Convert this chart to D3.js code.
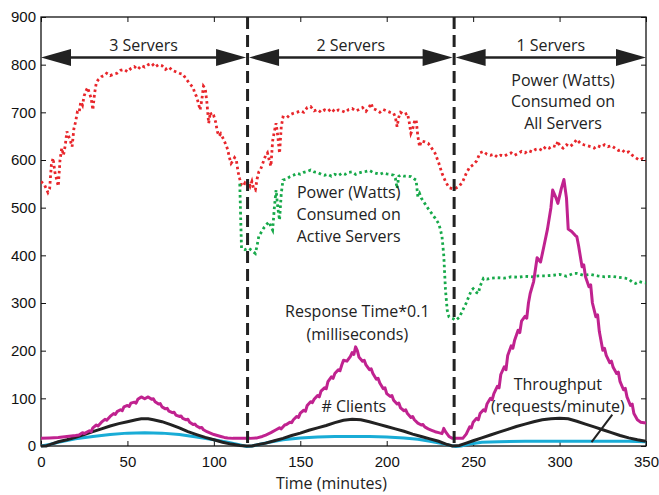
<!DOCTYPE html>
<html><head><meta charset="utf-8">
<script src="https://cdn.jsdelivr.net/npm/d3@7"></script>
<style>
body{margin:0;background:#fff;}
svg{display:block;}
.tick text{font-family:"Liberation Sans",Arial,sans-serif;font-size:15px;fill:#111;}
.ann{font-family:"Open Sans",sans-serif;font-size:16px;fill:#222;}
</style></head>
<body>
<svg id="chart" width="659" height="495"></svg>
<script>
// ---- data ----
const xTicks = [0,50,100,150,200,250,300,350];
const yTicks = [0,100,200,300,400,500,600,700,800,900];
const serverBoundaries = [0,119.5,239,350];
const serverLabels = ["3 Servers","2 Servers","1 Servers"];
const arrowLevel = 815;

const powerAll = [[0,555],[2,548],[4,532],[5,540],[6,590],[7,604],[8,575],[9,560],[10,545],[11,600],[12,625],[13,610],[14,630],[15,660],[16,650],[17,640],[18,628],[19,665],[20,680],[21,700],[22,698],[23,722],[24,715],[25,735],[26,745],[27,752],[28,740],[29,730],[30,705],[31,740],[32,762],[33,768],[35,775],[37,778],[38,782],[40,777],[42,780],[44,782],[46,788],[48,790],[50,785],[52,792],[54,796],[56,790],[58,798],[60,795],[62,800],[64,803],[66,795],[68,800],[70,798],[72,790],[74,795],[76,788],[78,785],[80,782],[82,780],[84,770],[86,760],[88,752],[89,740],[90,733],[91,720],[92,705],[93,725],[94,755],[95,750],[96,720],[97,677],[98,700],[99,690],[100,692],[101,680],[102,660],[103,650],[104,655],[105,648],[106,640],[107,632],[108,622],[109,605],[110,593],[111,598],[112,605],[113,600],[114,575],[115,560],[116,548],[117,545],[118,552],[119,548],[120,555],[121,545],[122,555],[123,540],[124,537],[125,560],[126,575],[127,580],[128,590],[129,600],[130,610],[131,615],[132,600],[133,587],[134,640],[135,660],[136,677],[137,650],[138,614],[139,670],[140,690],[142,688],[144,695],[146,698],[148,700],[150,703],[152,700],[154,710],[156,712],[158,703],[160,706],[162,700],[164,705],[166,702],[168,708],[170,701],[172,705],[174,703],[176,700],[178,706],[180,708],[182,703],[184,706],[186,710],[188,702],[190,712],[191,719],[192,708],[194,705],[196,700],[198,706],[200,703],[202,700],[204,698],[205,690],[206,670],[207,690],[208,700],[210,695],[212,698],[213,680],[214,656],[215,665],[216,680],[217,685],[218,650],[219,628],[220,640],[222,638],[224,635],[226,625],[228,614],[230,595],[232,572],[234,555],[236,542],[238,540],[240,541],[242,545],[244,555],[246,572],[248,585],[250,590],[252,598],[254,615],[256,618],[258,612],[260,610],[262,612],[264,606],[266,610],[268,608],[270,612],[272,615],[274,610],[276,614],[278,618],[280,615],[282,620],[284,617],[286,622],[288,624],[290,620],[292,628],[294,625],[296,630],[298,628],[299,640],[300,630],[302,625],[304,632],[306,628],[308,634],[310,643],[312,635],[314,632],[316,630],[318,628],[320,625],[322,630],[324,627],[326,632],[328,628],[330,630],[332,625],[334,620],[336,622],[338,615],[340,617],[342,610],[344,605],[346,600],[348,603],[350,598]];

const powerActive = [[115,550],[115.5,480],[116,415],[118,412],[120,415],[122,410],[124,404],[125,420],[126,440],[127,446],[128,452],[129,458],[130,462],[131,467],[132,470],[133,460],[134,453],[135,500],[136,537],[137,500],[138,474],[139,530],[140,558],[142,560],[144,565],[146,568],[148,572],[150,570],[152,574],[154,576],[156,579],[158,575],[160,574],[162,570],[164,568],[166,570],[168,566],[170,570],[172,567],[174,572],[176,570],[178,574],[180,575],[182,570],[184,573],[186,575],[188,576],[190,578],[192,574],[194,572],[196,570],[198,573],[200,571],[202,570],[204,568],[205,562],[206,540],[207,566],[208,568],[210,566],[212,566],[214,565],[216,560],[217,558],[218,523],[219,530],[220,520],[222,509],[224,498],[226,488],[228,478],[230,467],[231,455],[232,439],[233,400],[234,327],[235,285],[236,271],[238,268],[240,264],[242,270],[244,285],[246,300],[248,318],[249,327],[250,330],[252,322],[253,320],[254,335],[256,352],[258,350],[260,352],[264,353],[268,352],[272,355],[276,354],[280,356],[284,355],[288,357],[292,357],[296,358],[300,360],[304,356],[308,362],[310,362],[314,358],[318,360],[322,357],[326,355],[330,356],[334,354],[338,352],[340,350],[342,344],[344,341],[346,345],[348,343],[350,342]];

const responseTime = [[0,16],[5,17],[10,18],[15,20],[20,22],[22,23],[24,28],[25,26],[28,32],[29,30],[30,38],[32,44],[33,42],[35,50],[37,56],[38,54],[40,62],[42,68],[43,66],[44,72],[46,76],[47,74],[48,82],[50,85],[51,83],[52,90],[54,92],[55,90],[56,98],[58,103],[60,99],[62,103],[64,98],[65,99],[66,93],[68,88],[69,89],[70,82],[72,78],[73,79],[74,73],[76,70],[77,71],[78,65],[80,62],[81,63],[82,58],[84,55],[85,56],[86,50],[88,45],[89,46],[90,42],[92,38],[93,39],[94,34],[96,30],[98,27],[100,24],[102,22],[104,20],[106,18],[108,17],[111,16],[115,16],[121,16],[125,17],[128,20],[130,23],[133,28],[136,34],[138,38],[139,36],[141,44],[142,45],[144,50],[145,49],[146,55],[148,62],[149,60],[150,69],[152,75],[153,73],[154,85],[156,93],[157,91],[158,98],[160,106],[161,103],[162,115],[164,122],[165,120],[166,135],[168,145],[169,142],[170,152],[172,160],[173,158],[174,170],[175,180],[177,178],[179,188],[180,196],[181,192],[182,208],[183,200],[184,186],[186,178],[187,180],[188,170],[190,160],[191,162],[192,152],[194,140],[195,142],[196,132],[198,120],[199,122],[200,110],[202,104],[203,106],[204,96],[206,88],[207,90],[208,80],[210,74],[211,76],[212,68],[214,60],[215,62],[216,55],[218,48],[220,44],[221,45],[222,40],[224,36],[226,33],[228,30],[230,28],[232,26],[233,37],[234,30],[236,20],[238,16],[244,16],[246,25],[248,40],[249,38],[250,50],[252,58],[253,55],[254,68],[256,76],[257,73],[258,88],[260,100],[261,97],[262,110],[264,125],[265,122],[266,150],[268,166],[269,160],[270,190],[272,210],[273,205],[274,222],[276,243],[277,238],[278,262],[280,272],[281,268],[282,300],[283,320],[285,345],[287,395],[289,386],[291,420],[293,455],[295,500],[296,537],[298,520],[299,509],[301,540],[302.5,559],[304,520],[305,455],[307,450],[309,442],[310,439],[311,420],[313,376],[314,380],[315,355],[317,334],[318,338],[319,300],[321,271],[322,275],[323,240],[325,201],[326,205],[327,190],[329,175],[330,178],[331,165],[333,152],[334,155],[335,135],[337,118],[338,121],[339,103],[341,85],[342,88],[343,68],[345,55],[347,50],[350,48]];

const clients = [[0,0],[3,0],[6,4],[10,9],[15,13],[20,18],[25,24],[30,30],[35,36],[40,42],[45,47],[50,51],[55,55],[58,57],[62,57],[65,55],[70,51],[75,45],[80,38],[85,30],[90,24],[95,18],[100,13],[105,8],[110,4],[115,1],[119,0],[122,0],[126,3],[130,6],[135,11],[140,16],[145,22],[150,27],[155,33],[160,38],[165,43],[170,49],[175,54],[180,56],[185,55],[190,51],[195,46],[200,41],[205,36],[210,31],[215,25],[220,20],[225,15],[230,10],[235,3],[238,0],[242,1],[246,6],[250,11],[255,17],[260,23],[265,29],[270,35],[275,41],[280,46],[285,51],[290,55],[295,57],[300,58],[305,57],[310,52],[315,46],[320,40],[325,34],[330,28],[335,22],[340,17],[345,13],[350,10]];

const throughput = [[0,0],[5,3],[10,8],[20,15],[30,20],[40,24],[50,27],[60,28],[70,27],[80,24],[90,19],[100,13],[108,8],[114,3],[119,-1],[122,0],[126,3],[132,8],[140,13],[150,17],[160,19],[170,20],[180,20],[190,20],[200,19],[210,17],[218,14],[225,10],[232,5],[237,1],[240,-1],[243,0],[248,4],[255,8],[265,9],[280,10],[300,10],[320,10],[340,10],[350,9]];

const labels = [
  {lines:["Power (Watts)","Consumed on","All Servers"], t:302, v:[755,711,665]},
  {lines:["Power (Watts)","Consumed on","Active Servers"], t:178, v:[520,474,429]},
  {lines:["Response Time*0.1","(milliseconds)"], t:183, v:[270,222]},
  {lines:["# Clients"], t:181, v:[71]},
  {lines:["Throughput","(requests/minute)"], t:299, v:[117,72]}
];
const pointer = [[330.5,66],[318.5,8]];

// ---- chart ----
const W=659,H=495, m={l:41,t:17,r:13,b:49};
const svg=d3.select("#chart");
const x=d3.scaleLinear().domain([0,350]).range([m.l,W-m.r]);
const y=d3.scaleLinear().domain([0,900]).range([H-m.b,m.t]);

// frame
svg.append("rect").attr("x",x(0)).attr("y",y(900)).attr("width",x(350)-x(0)).attr("height",y(0)-y(900))
  .attr("fill","none").attr("stroke","#111").attr("stroke-width",1.3);

const ax=(g,a)=>{g.call(a);g.select(".domain").remove();g.selectAll(".tick line").attr("stroke","#111").attr("stroke-width",1);};
svg.append("g").attr("transform",`translate(0,${y(0)})`).call(g=>ax(g,d3.axisBottom(x).tickValues(xTicks).tickSize(-5).tickPadding(10).tickFormat(d3.format("d"))));
svg.append("g").attr("transform",`translate(0,${y(900)})`).call(g=>{ax(g,d3.axisTop(x).tickValues(xTicks).tickSize(-5).tickFormat(""));});
svg.append("g").attr("transform",`translate(${x(0)},0)`).call(g=>ax(g,d3.axisLeft(y).tickValues(yTicks).tickSize(-5).tickPadding(5).tickFormat(d3.format("d"))));
svg.append("g").attr("transform",`translate(${x(350)},0)`).call(g=>ax(g,d3.axisRight(y).tickValues(yTicks).tickSize(-5).tickFormat("")));
svg.selectAll(".tick text").attr("fill","#111");

svg.append("text").attr("class","ann").attr("x",x(168)).attr("y",H-6).attr("text-anchor","middle").text("Time (minutes)");

const line=d3.line().x(d=>x(d[0])).y(d=>y(d[1]));
svg.append("clipPath").attr("id","cp").append("rect").attr("x",x(0)).attr("y",y(900)).attr("width",x(350)-x(0)).attr("height",y(0)-y(900)+3);
const plot=svg.append("g").attr("clip-path","url(#cp)");

plot.append("path").datum(powerAll).attr("d",line).attr("fill","none").attr("stroke","#e8262b").attr("stroke-width",2.8).attr("stroke-dasharray","2.6,3");
plot.append("path").datum(powerActive).attr("d",line).attr("fill","none").attr("stroke","#17a94a").attr("stroke-width",2.8).attr("stroke-dasharray","2.6,3");
plot.append("path").datum(throughput).attr("d",line).attr("fill","none").attr("stroke","#19acd6").attr("stroke-width",3);
plot.append("path").datum(clients).attr("d",line).attr("fill","none").attr("stroke","#222").attr("stroke-width",3);
plot.append("path").datum(responseTime).attr("d",line).attr("fill","none").attr("stroke","#c0228f").attr("stroke-width",3).attr("stroke-linejoin","round");

// dashed server boundaries
serverBoundaries.slice(1,3).forEach(b=>{
  svg.append("line").attr("x1",x(b)).attr("x2",x(b)).attr("y1",y(900)).attr("y2",y(0))
    .attr("stroke","#222").attr("stroke-width",3).attr("stroke-dasharray","12,6");
});

// arrows
const ay=y(arrowLevel), hl=30, hh=8.5;
serverLabels.forEach((lab,i)=>{
  const a=x(serverBoundaries[i])+ (i===0?0:1.5), b=x(serverBoundaries[i+1])-(i===2?0:1.5);
  svg.append("line").attr("x1",a+hl-2).attr("x2",b-hl+2).attr("y1",ay).attr("y2",ay).attr("stroke","#222").attr("stroke-width",2.5);
  svg.append("path").attr("d",`M${a},${ay}L${a+hl},${ay-hh}L${a+hl},${ay+hh}Z`).attr("fill","#222");
  svg.append("path").attr("d",`M${b},${ay}L${b-hl},${ay-hh}L${b-hl},${ay+hh}Z`).attr("fill","#222");
  svg.append("text").attr("class","ann").attr("x",(a+b)/2).attr("y",ay-7).attr("text-anchor","middle").text(lab);
});

labels.forEach(L=>{
  L.lines.forEach((s,i)=>{
    svg.append("text").attr("class","ann").attr("x",x(L.t)).attr("y",y(L.v[i])).attr("text-anchor","middle").text(s);
  });
});
svg.append("path").datum(pointer).attr("d",line).attr("stroke","#222").attr("stroke-width",2).attr("fill","none");
</script>
</body></html>
